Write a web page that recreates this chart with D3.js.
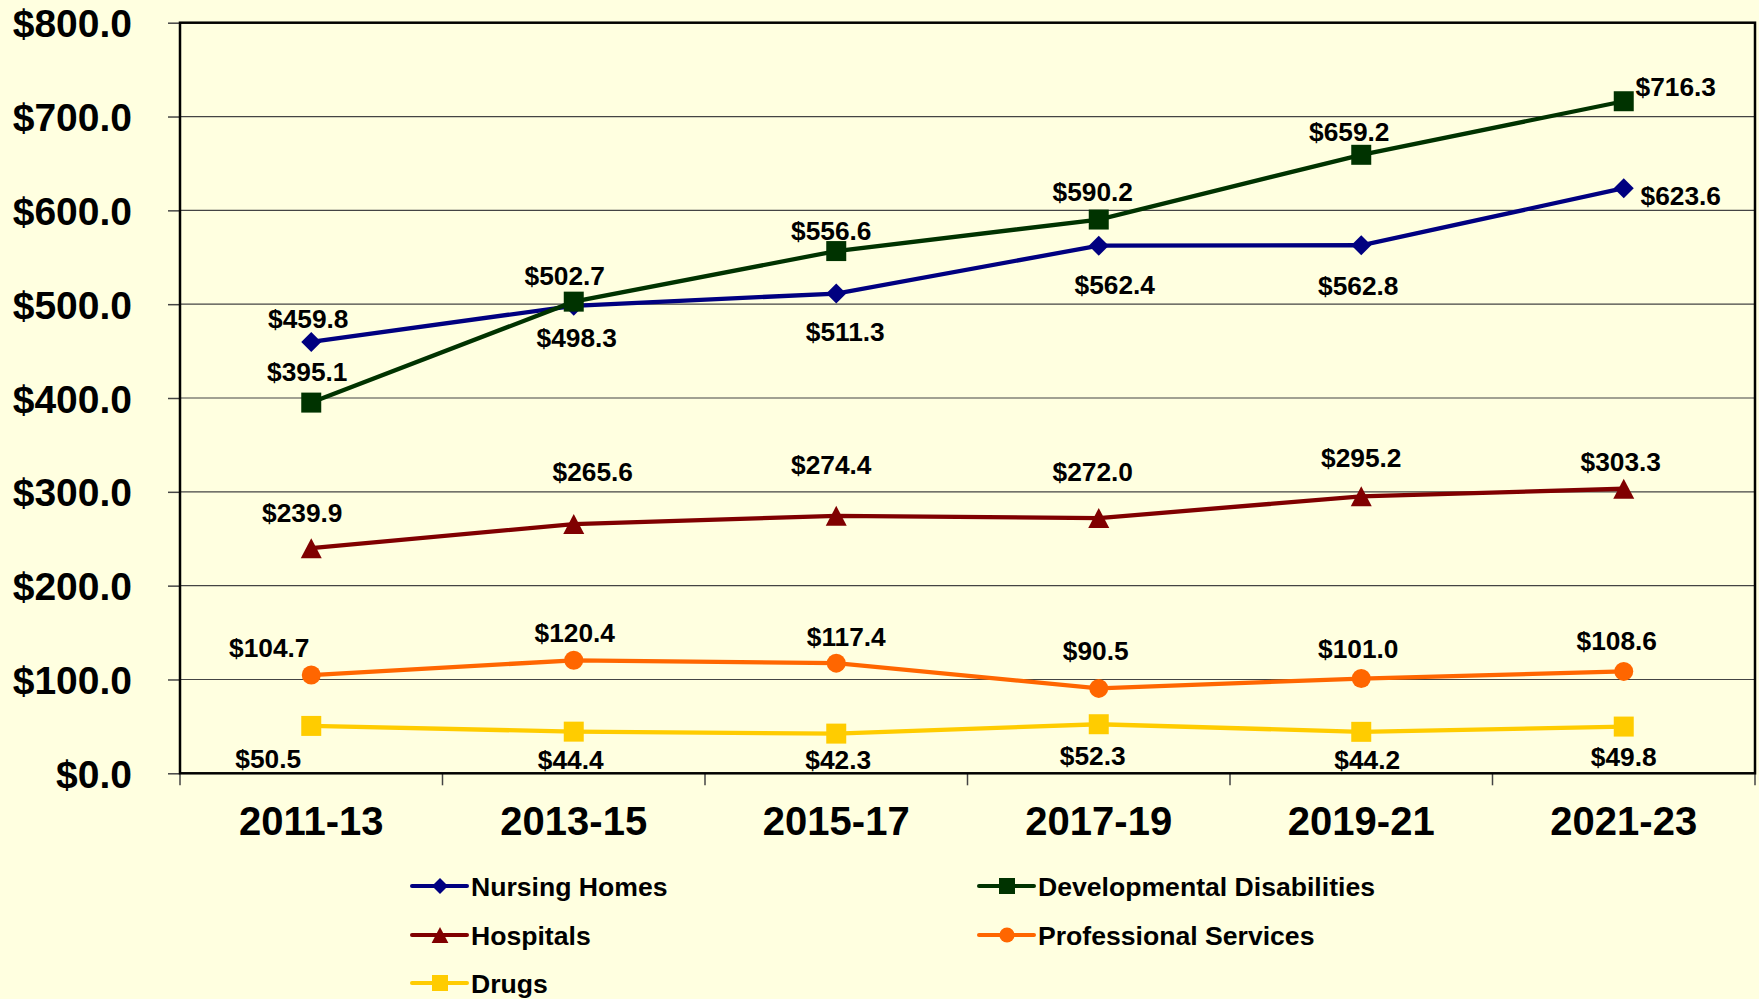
<!DOCTYPE html>
<html>
<head>
<meta charset="utf-8">
<script src="https://cdn.jsdelivr.net/npm/d3@7/dist/d3.min.js"></script>
<style>
	body { margin: 0; background: #FFFFE0; }
	svg { display: block; font-family: "Liberation Sans", Arial, sans-serif; font-weight: bold; }
</style>
</head>
<body>
<div id="chart-area"></div>
<script>

// SVG Size
var width = 1759,
	height = 999;

var margin = {top: 22.7, right: 4, bottom: 999 - 773.3, left: 180};

// Data (millions of dollars)
var periods = ["2011-13", "2013-15", "2015-17", "2017-19", "2019-21", "2021-23"];
var nursingHomes = [459.8, 498.3, 511.3, 562.4, 562.8, 623.6];
var developmentalDisabilities = [395.1, 502.7, 556.6, 590.2, 659.2, 716.3];
var hospitals = [239.9, 265.6, 274.4, 272.0, 295.2, 303.3];
var professionalServices = [104.7, 120.4, 117.4, 90.5, 101.0, 108.6];
var drugs = [50.5, 44.4, 42.3, 52.3, 44.2, 49.8];

var seriesNames = ["Nursing Homes", "Developmental Disabilities", "Hospitals", "Professional Services", "Drugs"];
var yTicks = [0, 100, 200, 300, 400, 500, 600, 700, 800];

// styling per series
var seriesColors = ["#000080", "#003300", "#800000", "#FF6600", "#FFCC00"];
var seriesMarkers = ["diamond", "square", "triangle", "circle", "square"];

// where each value label sits, relative to its point [dx, dy]
var labelOffsets = [
	[[-3, -23], [3, 32], [9, 38], [16, 39], [-3, 40], [57, 7]],
	[[-4, -31], [-9, -26], [-5, -21], [-6, -28], [-12, -23], [52, -15]],
	[[-9, -36], [19, -53], [-5, -51], [-6, -47], [0, -39], [-3, -27]],
	[[-42, -28], [1, -28], [10, -27], [-3, -38], [-3, -30], [-7, -31]],
	[[-43, 33], [-3, 28], [2, 26], [-6, 31], [6, 28], [0, 30]]
];

var allValues = [nursingHomes, developmentalDisabilities, hospitals, professionalServices, drugs];

var series = seriesNames.map(function(name, i) {
	return {
		name: name,
		color: seriesColors[i],
		marker: seriesMarkers[i],
		values: allValues[i].map(function(v, j) {
			return {period: periods[j], value: v, offset: labelOffsets[i][j]};
		})
	};
});

// marker paths, centred on 0,0
function markerPath(type, s) {
	var h = 10 * s;
	if (type == "diamond") return "M0," + (-h) + "L" + h + ",0L0," + h + "L" + (-h) + ",0Z";
	if (type == "square") return "M" + (-h) + "," + (-h) + "H" + h + "V" + h + "H" + (-h) + "Z";
	if (type == "triangle") return "M0," + (-h) + "L" + (h * 1.05) + "," + h + "L" + (-h * 1.05) + "," + h + "Z";
	var r = 9.5 * s;
	return "M" + r + ",0A" + r + "," + r + " 0 1,1 " + (-r) + ",0A" + r + "," + r + " 0 1,1 " + r + ",0Z";
}

var svg = d3.select("#chart-area")
	.append("svg")
	.attr("width", width)
	.attr("height", height);

svg.append("rect")
	.attr("width", width)
	.attr("height", height)
	.attr("fill", "#FFFFE0");

var innerW = width - margin.left - margin.right,
	innerH = height - margin.top - margin.bottom;

var g = svg.append("g")
	.attr("transform", "translate(" + margin.left + "," + margin.top + ")");

var x = d3.scaleBand()
	.domain(periods)
	.range([0, innerW])
	.padding(0);

var y = d3.scaleLinear()
	.domain([0, 800])
	.range([innerH, 0]);

// gridlines
g.selectAll(".grid")
	.data(yTicks.filter(function(d) { return d > 0 && d < 800; }))
	.enter()
	.append("line")
	.attr("x1", 0)
	.attr("x2", innerW)
	.attr("y1", function(d) { return y(d); })
	.attr("y2", function(d) { return y(d); })
	.attr("stroke", "#444")
	.attr("stroke-width", 1.2);

// y axis
var yAxis = g.append("g")
	.call(d3.axisLeft(y)
		.tickValues(yTicks)
		.tickSize(12)
		.tickPadding(36)
		.tickFormat(function(d) { return "$" + d3.format(".1f")(d); }));
yAxis.select(".domain").remove();
yAxis.selectAll(".tick line").attr("stroke", "#444").attr("stroke-width", 1.5);
yAxis.selectAll("text")
	.attr("font-size", 39)
	.attr("font-weight", "bold")
	.attr("font-family", "'Liberation Sans', Arial, sans-serif")
	.attr("fill", "#000")
	.attr("dy", "0.36em");

// x axis labels
var xAxis = g.append("g")
	.attr("transform", "translate(0," + innerH + ")")
	.call(d3.axisBottom(x).tickSize(0).tickPadding(33));
xAxis.select(".domain").remove();
xAxis.selectAll("text")
	.attr("font-size", 40)
	.attr("font-weight", "bold")
	.attr("font-family", "'Liberation Sans', Arial, sans-serif")
	.attr("fill", "#000")
	.attr("dy", "0.71em");

// x boundary tick marks
var bounds = periods.map(function(p) { return x(p); }).concat([innerW]);
g.selectAll(".xtick")
	.data(bounds)
	.enter()
	.append("line")
	.attr("x1", function(d) { return d; })
	.attr("x2", function(d) { return d; })
	.attr("y1", innerH)
	.attr("y2", innerH + 12)
	.attr("stroke", "#444")
	.attr("stroke-width", 1.5);

// plot frame
g.append("rect")
	.attr("width", innerW)
	.attr("height", innerH)
	.attr("fill", "none")
	.attr("stroke", "#000")
	.attr("stroke-width", 2.5);

var line = d3.line()
	.x(function(d) { return x(d.period) + x.bandwidth() / 2; })
	.y(function(d) { return y(d.value); });

var sg = g.selectAll(".series")
	.data(series)
	.enter()
	.append("g");

sg.append("path")
	.attr("d", function(d) { return line(d.values); })
	.attr("fill", "none")
	.attr("stroke", function(d) { return d.color; })
	.attr("stroke-width", 4.3);

sg.each(function(s) {
	d3.select(this).selectAll("path.marker")
		.data(s.values)
		.enter()
		.append("path")
		.attr("class", "marker")
		.attr("d", markerPath(s.marker, 1))
		.attr("transform", function(d) {
			return "translate(" + (x(d.period) + x.bandwidth() / 2) + "," + y(d.value) + ")";
		})
		.attr("fill", s.color);
});

// value labels
sg.each(function(s) {
	d3.select(this).selectAll("text")
		.data(s.values)
		.enter()
		.append("text")
		.attr("x", function(d) { return x(d.period) + x.bandwidth() / 2 + d.offset[0]; })
		.attr("y", function(d) { return y(d.value) + d.offset[1]; })
		.attr("dy", "0.36em")
		.attr("text-anchor", "middle")
		.attr("font-size", 26.3)
		.attr("fill", "#000")
		.text(function(d) { return "$" + d3.format(".1f")(d.value); });
});

// legend
var legendCols = [412, 979],
	legendRows = [886, 935, 983];

var legend = svg.selectAll(".legend")
	.data(series)
	.enter()
	.append("g")
	.attr("transform", function(d, i) {
		return "translate(" + legendCols[i % 2] + "," + legendRows[Math.floor(i / 2)] + ")";
	});

legend.append("line")
	.attr("x1", 0)
	.attr("x2", 55)
	.attr("stroke", function(d) { return d.color; })
	.attr("stroke-width", 4)
	.attr("stroke-linecap", "round");

legend.append("path")
	.attr("d", function(d) { return markerPath(d.marker, 0.8); })
	.attr("transform", "translate(28,0)")
	.attr("fill", function(d) { return d.color; });

legend.append("text")
	.attr("x", 59)
	.attr("dy", "0.36em")
	.attr("font-size", 26.6)
	.attr("fill", "#000")
	.text(function(d) { return d.name; });

</script>
</body>
</html>
